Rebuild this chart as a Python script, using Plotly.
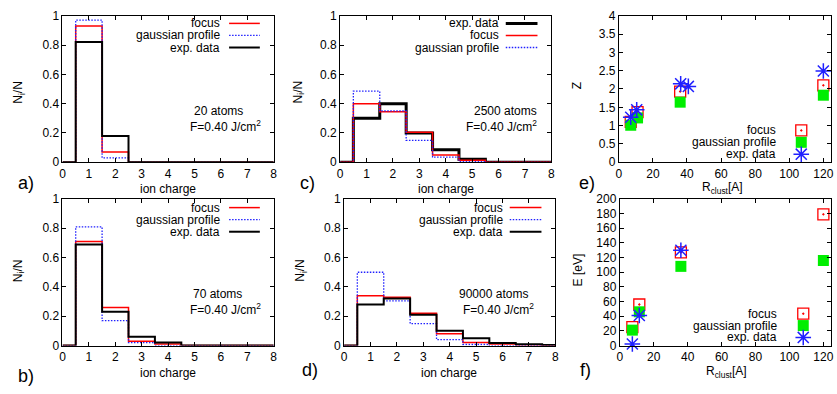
import plotly.graph_objects as go

W, H = 837, 394

# ---------------- data ----------------
charges = [0, 1, 2, 3, 4, 5, 6, 7, 8]

# panel a: 20 atoms
a_focus = [0, 0.93, 0.07, 0, 0, 0, 0, 0, 0]
a_gauss = [0, 0.97, 0.03, 0, 0, 0, 0, 0, 0]
a_exp   = [0, 0.82, 0.18, 0, 0, 0, 0, 0, 0]

# panel b: 70 atoms
b_focus = [0, 0.71, 0.26, 0.03, 0.01, 0, 0, 0, 0]
b_gauss = [0, 0.81, 0.17, 0.02, 0, 0, 0, 0, 0]
b_exp   = [0, 0.69, 0.23, 0.06, 0.02, 0, 0, 0, 0]

# panel c: 2500 atoms
c_exp   = [0, 0.30, 0.40, 0.20, 0.085, 0.02, 0, 0, 0]
c_focus = [0, 0.40, 0.345, 0.205, 0.05, 0.013, 0, 0, 0]
c_gauss = [0, 0.485, 0.35, 0.15, 0.035, 0.005, 0, 0, 0]

# panel d: 90000 atoms
d_focus = [0, 0.34, 0.33, 0.22, 0.08, 0.02, 0.01, 0.003, 0]
d_gauss = [0, 0.50, 0.305, 0.15, 0.04, 0.007, 0, 0, 0]
d_exp   = [0, 0.28, 0.32, 0.21, 0.10, 0.05, 0.018, 0.008, 0.003]

# panel e: mean charge Z vs cluster radius
e_r_model = [7, 11, 36, 120]
e_focus   = [1.1, 1.37, 1.93, 2.1]
e_gauss   = [1.01, 1.21, 1.64, 1.83]
e_r_exp   = [7, 10.5, 36.3, 40.8, 120]
e_exp     = [1.23, 1.43, 2.14, 2.07, 2.49]

# panel f: energy vs cluster radius
f_r_model = [7.4, 11.5, 36, 120]
f_focus   = [25, 56, 127, 179]
f_gauss   = [21, 46, 108, 116]
f_r_exp   = [7.4, 11.5, 36]
f_exp     = [2, 41, 130]

hist_yticks = [0, 0.2, 0.4, 0.6, 0.8, 1]
hist_yticklabels = ["0", "0.2", "0.4", "0.6", "0.8", "1"]
e_yticks = [0, 0.5, 1, 1.5, 2, 2.5, 3, 3.5, 4]
f_yticks = [0, 20, 40, 60, 80, 100, 120, 140, 160, 180, 200]
r_xticks = [0, 20, 40, 60, 80, 100, 120]

# ---------------- style ----------------
RED = "#ff0000"
BLUE = "#2020ff"
GREEN = "#00ee00"
FONT = "Liberation Sans, Arial, sans-serif"
FS = 12
DOT = "1.5px,1.5px"

def px(x):
    return x / W

def py(y):
    return 1 - y / H

fig = go.Figure()

# panel geometry in window pixels (left, right, top, bottom)
panels = {
    "a": (60, 273, 9, 161),
    "b": (60, 273, 199, 351),
    "c": (340, 553, 9, 161),
    "d": (344, 557, 199, 351),
    "e": (621, 835, 9, 161),
    "f": (622, 835, 199, 351),
}
axis_ids = {"a": "", "b": "2", "c": "3", "d": "4", "e": "5", "f": "6"}

def step_trace(ax, y, color, width, dash="solid"):
    return go.Scatter(x=charges, y=y, mode="lines",
                      line=dict(color=color, width=width, dash=dash, shape="hvh"),
                      xaxis="x" + ax, yaxis="y" + ax, showlegend=False,
                      hoverinfo="skip")

# histograms
fig.add_trace(step_trace("", a_focus, RED, 1.5))
fig.add_trace(step_trace("", a_gauss, BLUE, 1.3, DOT))
fig.add_trace(step_trace("", a_exp, "black", 2))

fig.add_trace(step_trace("2", b_focus, RED, 1.5))
fig.add_trace(step_trace("2", b_gauss, BLUE, 1.3, DOT))
fig.add_trace(step_trace("2", b_exp, "black", 2))

fig.add_trace(step_trace("3", c_exp, "black", 3))
fig.add_trace(step_trace("3", c_focus, RED, 1.5))
fig.add_trace(step_trace("3", c_gauss, BLUE, 1.3, DOT))

fig.add_trace(step_trace("4", d_focus, RED, 1.5))
fig.add_trace(step_trace("4", d_gauss, BLUE, 1.3, DOT))
fig.add_trace(step_trace("4", d_exp, "black", 2))

FOCUS_M = dict(symbol="square-open-dot", size=11, color=RED, line=dict(color=RED, width=1.3))
GAUSS_M = dict(symbol="square", size=11, color=GREEN, line=dict(width=0))
EXP_M = dict(symbol="asterisk-open", size=13, color=BLUE, line=dict(color=BLUE, width=1.5))

def pts(ax, x, y, marker):
    return go.Scatter(x=x, y=y, mode="markers", marker=marker,
                      xaxis="x" + ax, yaxis="y" + ax, showlegend=False,
                      hoverinfo="skip", cliponaxis=False)

fig.add_trace(pts("5", e_r_model, e_focus, FOCUS_M))
fig.add_trace(pts("5", e_r_model, e_gauss, GAUSS_M))
fig.add_trace(pts("5", e_r_exp, e_exp, EXP_M))

fig.add_trace(pts("6", f_r_model, f_focus, FOCUS_M))
fig.add_trace(pts("6", f_r_model, f_gauss, GAUSS_M))
fig.add_trace(pts("6", f_r_exp, f_exp, EXP_M))

# ---------------- axes ----------------
layout = dict(
    width=W, height=H, margin=dict(l=0, r=0, t=0, b=0),
    paper_bgcolor="white", plot_bgcolor="rgba(0,0,0,0)",
    font=dict(family=FONT, size=FS, color="black"),
    showlegend=False,
)

common = dict(showline=True, linecolor="black", linewidth=1, mirror="allticks",
              ticks="inside", ticklen=4, tickcolor="black", showgrid=False,
              zeroline=False, tickfont=dict(size=FS, family=FONT, color="black"))

for key, (l, r, t, b) in panels.items():
    n = axis_ids[key]
    xa = dict(common, domain=[px(l), px(r)], anchor="y" + n)
    ya = dict(common, domain=[py(b), py(t)], anchor="x" + n)
    if key in "abcd":
        xa.update(range=[0, 8], tickvals=charges, ticktext=[str(c) for c in charges])
        ya.update(range=[0, 1], tickvals=hist_yticks, ticktext=hist_yticklabels)
    elif key == "e":
        xa.update(range=[0, 124.5], tickvals=r_xticks)
        ya.update(range=[0, 4], tickvals=e_yticks)
    else:
        xa.update(range=[0, 124.5], tickvals=r_xticks)
        ya.update(range=[0, 200], tickvals=f_yticks)
    layout["xaxis" + n] = xa
    layout["yaxis" + n] = ya

# overlay axis in window pixels for legend keys
layout["xaxis7"] = dict(domain=[0, 1], range=[0, W], visible=False, fixedrange=True, anchor="y7")
layout["yaxis7"] = dict(domain=[0, 1], range=[H, 0], visible=False, fixedrange=True, anchor="x7")
fig.update_layout(**layout)

annotations = []

def text(x, y, s, size=FS, xanchor="center", textangle=0):
    annotations.append(dict(x=px(x), y=py(y), xref="paper", yref="paper", text=s,
                            showarrow=False, xanchor=xanchor, yanchor="middle",
                            font=dict(size=size, family=FONT, color="black"),
                            textangle=textangle))

def key_line(x0, x1, y, color, width, dash="solid"):
    fig.add_trace(go.Scatter(x=[x0, x1], y=[y, y], mode="lines",
                             line=dict(color=color, width=width, dash=dash),
                             xaxis="x7", yaxis="y7", showlegend=False, hoverinfo="skip"))

def key_marker(x, y, marker):
    fig.add_trace(go.Scatter(x=[x], y=[y], mode="markers", marker=marker,
                             xaxis="x7", yaxis="y7", showlegend=False, hoverinfo="skip"))

# legends a and b
for top in (17, 208):
    text(221, top, "focus", xanchor="right")
    text(221, top + 12.5, "gaussian profile", xanchor="right")
    text(221, top + 25, "exp. data", xanchor="right")
    key_line(228, 259, top, RED, 1.5)
    key_line(228, 259, top + 12.5, BLUE, 1.3, DOT)
    key_line(228, 259, top + 25, "black", 2)

# legend c
text(502, 17, "exp. data", xanchor="right")
text(502, 29.5, "focus", xanchor="right")
text(502, 42, "gaussian profile", xanchor="right")
key_line(507, 539, 17, "black", 3)
key_line(507, 539, 29.5, RED, 1.5)
key_line(507, 539, 42, BLUE, 1.3, DOT)

# legend d
text(506, 208, "focus", xanchor="right")
text(506, 220.5, "gaussian profile", xanchor="right")
text(506, 233, "exp. data", xanchor="right")
key_line(511, 543, 208, RED, 1.5)
key_line(511, 543, 220.5, BLUE, 1.3, DOT)
key_line(511, 543, 233, "black", 2)

# legends e and f
for top, tx, mx in ((128, 782, 805), (318, 783, 807)):
    text(tx, top, "focus", xanchor="right")
    text(tx, top + 12.3, "gaussian profile", xanchor="right")
    text(tx, top + 24.6, "exp. data", xanchor="right")
    key_marker(mx, top, FOCUS_M)
    key_marker(mx, top + 12.3, GAUSS_M)
    key_marker(mx, top + 24.6, EXP_M)

# in-panel labels
text(217, 108, "20 atoms")
text(224, 123, "F=0.40 J/cm<sup>2</sup>")
text(216, 298, "70 atoms")
text(224, 313, "F=0.40 J/cm<sup>2</sup>")
text(507, 108, "2500 atoms")
text(503, 123, "F=0.40 J/cm<sup>2</sup>")
text(495, 298, "90000 atoms")
text(500, 313, "F=0.40 J/cm<sup>2</sup>")

# axis titles
text(166, 189, "ion charge")
text(166, 380, "ion charge")
text(447, 189, "ion charge")
text(450, 380, "ion charge")
text(726, 188, "R<sub>clust</sub>[A]")
text(730, 378, "R<sub>clust</sub>[A]")
text(16, 88, "N<sub>i</sub>/N", textangle=-90)
text(16, 273, "N<sub>i</sub>/N", textangle=-90)
text(298, 88, "N<sub>i</sub>/N", textangle=-90)
text(301, 273, "N<sub>i</sub>/N", textangle=-90)
text(579, 82, "Z", textangle=-90)
text(580, 273, "E [eV]", textangle=-90)

# panel letters
text(23, 183, "a)", size=18)
text(23, 383, "b)", size=18)
text(307, 183, "c)", size=18)
text(310, 376, "d)", size=18)
text(589, 183, "e)", size=18)
text(587, 376, "f)", size=18)

fig.update_layout(annotations=annotations)
fig.write_html("out.html", config={"displayModeBar": False},
               post_script="document.body.style.margin='0px';")
